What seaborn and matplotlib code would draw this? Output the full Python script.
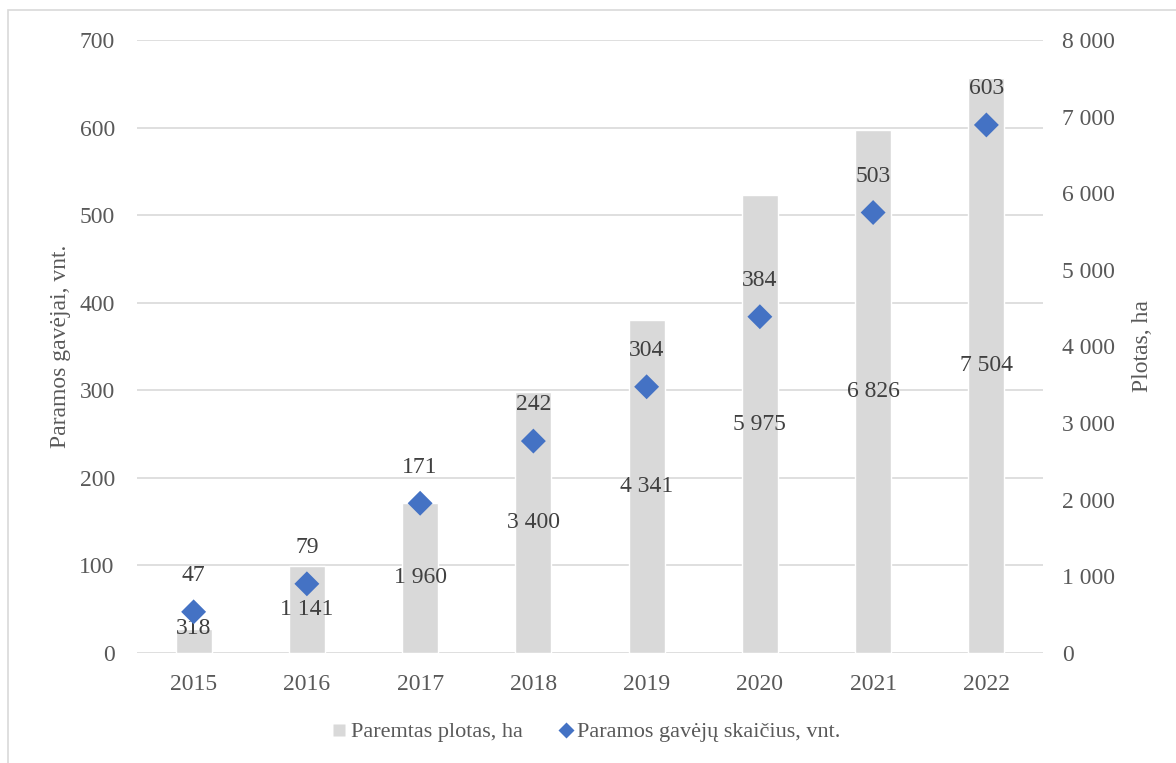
import matplotlib
matplotlib.use("Agg")
import matplotlib.pyplot as plt
import seaborn as sns
import pandas as pd
import numpy as np
from matplotlib.patches import Rectangle
from matplotlib.lines import Line2D
from matplotlib.ticker import FuncFormatter, MultipleLocator

years = ["2015", "2016", "2017", "2018", "2019", "2020", "2021", "2022"]
area_ha = [318, 1141, 1960, 3400, 4341, 5975, 6826, 7504]
recipients = [47, 79, 171, 242, 304, 384, 503, 603]

bar_label = "Paremtas plotas, ha"
marker_label = "Paramos gavėjų skaičius, vnt."
left_ylabel = "Paramos gavėjai, vnt."
right_ylabel = "Plotas, ha"

sns.set_theme(style="white")
plt.rcParams["font.family"] = ["Liberation Serif", "DejaVu Serif"]

TXT = "#595959"
LBL = "#404040"
GRID = "#d9d9d9"
BAR = "#d9d9d9"
MK = "#4472c4"
FS = 17

df = pd.DataFrame({"year": years, "area": area_ha, "rec": recipients})

fig = plt.figure(figsize=(11.76, 7.63), dpi=100)
ax = fig.add_axes([137/1176, 1-653/763, (1043-137)/1176, (653-40)/763])
ax2 = ax.twinx()

# bars on ax (right-side scale), markers on ax2 (left-side scale)
sns.barplot(data=df, x="year", y="area", color=BAR, width=0.32, ax=ax,
            saturation=1, zorder=2)
ax.set_ylim(0, 8000)
ax.yaxis.tick_right()
ax.yaxis.set_label_position("right")
ax.yaxis.set_major_locator(MultipleLocator(1000))
ax.yaxis.set_major_formatter(FuncFormatter(lambda v, p: f"{int(v):,}".replace(",", " ")))
ax.set_ylabel(right_ylabel, color=TXT, fontsize=FS, labelpad=12)
ax.set_xlabel("")
ax.tick_params(axis="y", colors=TXT, labelsize=FS, length=0, pad=14,
               left=False, labelleft=False, right=False, labelright=True)
ax.tick_params(axis="x", colors=TXT, labelsize=FS, length=0, pad=15)
ax.set_xlim(-0.5, len(years) - 0.5)

sns.scatterplot(data=df, x="year", y="rec", marker="D", s=161, color=MK,
                edgecolor="none", ax=ax2, zorder=3, legend=False)
ax2.set_ylim(0, 700)
ax2.yaxis.tick_left()
ax2.yaxis.set_label_position("left")
ax2.yaxis.set_major_locator(MultipleLocator(100))
ax2.set_ylabel(left_ylabel, color=TXT, fontsize=FS, labelpad=6)
ax2.tick_params(axis="y", colors=TXT, labelsize=FS, length=0, pad=16,
                left=False, right=False, labelleft=True, labelright=False)
ax2.grid(False)
ax2.set_xlim(-0.5, len(years) - 0.5)

# gridlines follow the left scale, drawn behind the bars
for t in range(0, 701, 100):
    ax.axhline(t / 700 * 8000, color=GRID, linewidth=1.2, zorder=0)

for a in (ax, ax2):
    for s in a.spines.values():
        s.set_visible(False)
ax.patch.set_visible(False)

# bar labels (centered in bars, smallest raised to bar top)
for i, v in enumerate(area_ha):
    y = max(v / 2, v if v < 600 else 0)
    ax.text(i, y, f"{v:,}".replace(",", " "), ha="center", va="center",
            fontsize=FS, color=LBL, zorder=4)

# marker labels above
for i, v in enumerate(recipients):
    ax2.annotate(str(v), (i, v), xytext=(0, 26), textcoords="offset points",
                 ha="center", va="center", fontsize=FS, color=LBL, zorder=5)

handles = [
    Line2D([], [], marker="s", linestyle="none", markersize=8.5,
           markerfacecolor=BAR, markeredgecolor="none"),
    Line2D([], [], marker="D", linestyle="none", markersize=8,
           markerfacecolor=MK, markeredgecolor="none"),
]
fig.legend(handles, [bar_label, marker_label], loc="center",
           bbox_to_anchor=(586/1176, 1-732/763), ncol=2, frameon=False,
           fontsize=16, labelcolor=TXT, handlelength=0.7, handletextpad=0.15,
           columnspacing=1.6)

fig.add_artist(Rectangle((7.5/1176, -0.1), 2, 1.1 - 10/763,
                         transform=fig.transFigure, fill=False,
                         edgecolor=GRID, linewidth=1.2))

fig.savefig("out.png", dpi=100, facecolor="white")
